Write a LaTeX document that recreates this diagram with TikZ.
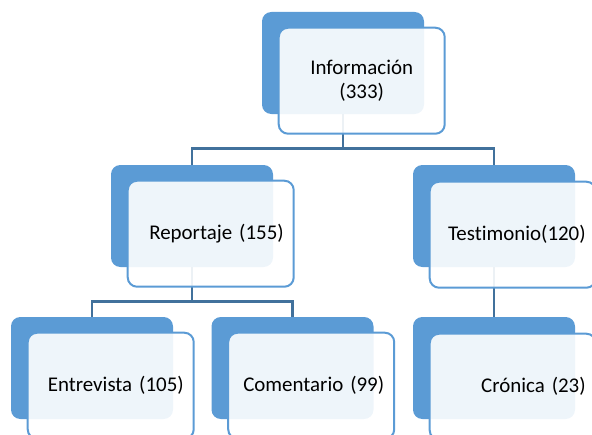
\documentclass[tikz,border=0pt]{standalone}
\usepackage{fontspec}
\setmainfont{Carlito}[Ligatures=NoCommon]
\usetikzlibrary{backgrounds}

\definecolor{boxblue}{HTML}{5B9BD5}
\definecolor{linkblue}{HTML}{41719C}

\tikzset{
    backbox/.style={fill=boxblue, draw=none, rounded corners=7pt,
        minimum width=121.5pt, minimum height=76.5pt},
    frontbox/.style={fill=white, fill opacity=0.9, text opacity=1,
        draw=boxblue, line width=1.5pt, rounded corners=7pt,
        minimum width=124.5pt, minimum height=79.5pt,
        text width=109.5pt, inner xsep=7.5pt, inner ysep=0pt,
        align=right, anchor=north west,
        font=\fontsize{15.7}{18}\selectfont},
    link/.style={draw=linkblue, line width=2pt}
}

\begin{document}
\begin{tikzpicture}[x=0.75pt, y=-0.75pt]
    \useasboundingbox (0,0) rectangle (592,435);
    \clip (0,0) rectangle (592,435);

    % back boxes
    \node[backbox] (infB) at (343,63) {};
    \node[backbox] (repB) at (192,216) {};
    \node[backbox] (tesB) at (494,216) {};
    \node[backbox] (entB) at (92,368) {};
    \node[backbox] (comB) at (292.5,368) {};
    \node[backbox] (croB) at (494,368) {};

    % front boxes with the text
    \node[frontbox, align=center] (infF) at ([shift={(16,15)}]infB.north west) {Información\\(333)};
    \node[frontbox] (repF) at ([shift={(16,15)}]repB.north west) {Reportaje (155)};
    \node[frontbox] (tesF) at ([shift={(16,16)}]tesB.north west) {Testimonio(120)};
    \node[frontbox] (entF) at ([shift={(16,15)}]entB.north west) {Entrevista (105)};
    \node[frontbox] (comF) at ([shift={(16,15)}]comB.north west) {Comentario (99)};
    \node[frontbox] (croF) at ([shift={(16,16)}]croB.north west) {Crónica (23)};

    % connectors
    \begin{scope}[on background layer]
        \draw[link] (infB.south) -- ++(0,34) -| (repB.north);
        \draw[link] (infB.south) -- ++(0,34) -| (tesB.north);
        \draw[link] (repB.south) -- ++(0,34) -| (entB.north);
        \draw[link] (repB.south) -- ++(0,34) -| (comB.north);
        \draw[link] (tesB.south) -- (croB.north);
    \end{scope}
\end{tikzpicture}
\end{document}
